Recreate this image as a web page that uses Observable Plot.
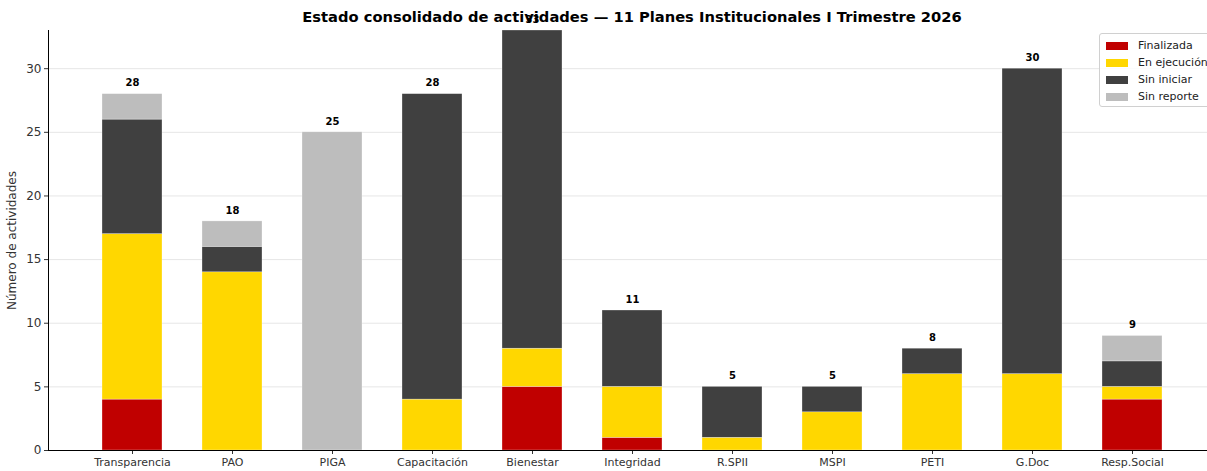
<!DOCTYPE html>
<html><head><meta charset="utf-8">
<script src="https://cdn.jsdelivr.net/npm/d3@7"></script>
<script src="https://cdn.jsdelivr.net/npm/@observablehq/plot@0.6"></script>
<style>
body{margin:0;background:#fff;font-family:"DejaVu Sans",sans-serif;}
#wrap{position:relative;width:1207px;height:471px;overflow:hidden;}
#title{position:absolute;top:8px;left:0;width:1264px;text-align:center;font-weight:bold;font-size:14.7px;color:#000;z-index:2;pointer-events:none;}
#legend{position:absolute;left:1099px;top:33px;width:112px;height:74px;border:1px solid #d0d0d0;border-radius:3px;background:rgba(255,255,255,0.85);font-size:11px;color:#222;box-sizing:border-box;padding:3px 0 0 6px;z-index:3;}
.row{display:flex;align-items:center;height:17px;}
.sw{width:22px;height:8px;margin-right:10px;}
</style></head><body>
<div id="wrap"><div id="title"></div><div id="chart"></div><div id="legend"></div></div>
<script>
const categories = ["Transparencia","PAO","PIGA","Capacitación","Bienestar","Integridad","R.SPII","MSPI","PETI","G.Doc","Resp.Social"];
const statuses = ["Finalizada","En ejecución","Sin iniciar","Sin reporte"];
const colors = ["#c00000","#ffd700","#404040","#bdbdbd"];
const finalizada  = [4,0,0,0,5,1,0,0,0,0,4];
const enEjecucion = [13,14,0,4,3,4,1,3,6,6,1];
const sinIniciar  = [9,2,0,24,25,6,4,2,2,24,2];
const sinReporte  = [2,2,25,0,0,0,0,0,0,0,2];
const yTicks = [0,5,10,15,20,25,30];
const titleText = "Estado consolidado de actividades — 11 Planes Institucionales I Trimestre 2026";
const yLabel = "Número de actividades";

const series = [finalizada, enEjecucion, sinIniciar, sinReporte];
const rows = [];
categories.forEach((c,i)=>statuses.forEach((s,j)=>rows.push({cat:c,status:s,value:series[j][i]})));
const totals = categories.map((c,i)=>({cat:c,total:series.reduce((a,s)=>a+s[i],0)}));

document.getElementById("title").textContent = titleText;
const lg = document.getElementById("legend");
statuses.forEach((s,j)=>{const r=document.createElement("div");r.className="row";
 r.innerHTML=`<div class="sw" style="background:${colors[j]}"></div><span>${s}</span>`;lg.appendChild(r);});

const plot = Plot.plot({
  width: 1207, height: 471,
  marginTop: 30, marginBottom: 21, marginLeft: 48, marginRight: -9,
  style:{fontFamily:"DejaVu Sans, sans-serif", fontSize:"11px", color:"#333", overflow:"visible"},
  x:{domain:categories, paddingInner:0.4, paddingOuter:0.53, label:null},
  y:{domain:[0,33], label:null},
  color:{domain:statuses, range:colors},
  marks:[
    Plot.gridY(yTicks,{stroke:"#e6e6e6", strokeOpacity:1}),
    Plot.barY(rows,{x:"cat", y:"value", fill:"status", stroke:"white", strokeWidth:0.5, strokeOpacity:0.6, clip:true}),
    Plot.text(totals,{x:"cat", y:"total", text:"total", dy:-11, fontWeight:"bold", fontSize:10, fill:"#000"}),
    Plot.axisY(yTicks,{tickSize:4, tickPadding:3, fontSize:12, label:null}),
    Plot.axisY({anchor:"left", ticks:[], tickSize:0, label:yLabel, labelAnchor:"center", labelArrow:"none", labelOffset:41, fontSize:12}),
    Plot.axisX({tickSize:4, tickPadding:4, fontSize:11, label:null}),
    Plot.frame({anchor:"left", stroke:"#000"}),
    Plot.frame({anchor:"bottom", stroke:"#000"})
  ]
});
document.getElementById("chart").appendChild(plot);
</script></body></html>
